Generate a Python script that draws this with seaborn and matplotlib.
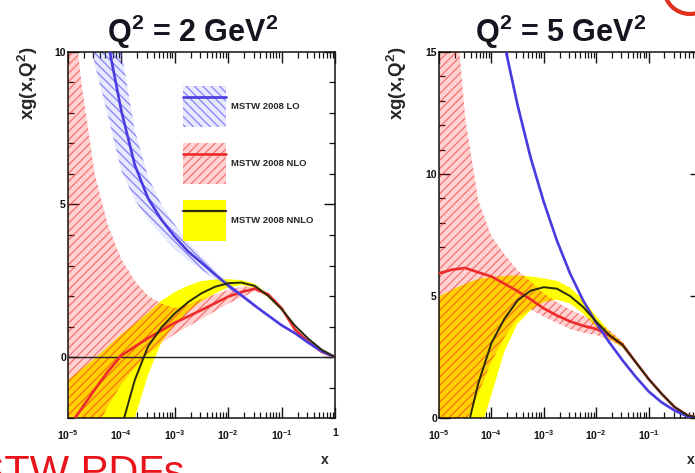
import numpy as np
import pandas as pd
import matplotlib
matplotlib.use("Agg")
import matplotlib.pyplot as plt
import seaborn as sns
from matplotlib.patches import Patch, Circle
from matplotlib.lines import Line2D
from matplotlib.legend_handler import HandlerTuple
from matplotlib.ticker import FixedLocator, FixedFormatter, LogLocator, MultipleLocator, NullFormatter

# ---- x grid (log10 x) ----
log_x = [-5.0, -4.75, -4.5, -4.25, -4.0, -3.75, -3.5, -3.25, -3.0, -2.75, -2.5,
         -2.25, -2.0, -1.75, -1.5, -1.25, -1.0, -0.75, -0.5, -0.25, 0.0]

# ---- Q^2 = 2 GeV^2 ----
lo_q2_c = [18.0, 15.0, 12.5, 10.3, 8.06, 6.3, 5.2, 4.5, 3.94, 3.46, 3.09,
           2.71, 2.35, 2.02, 1.68, 1.36, 1.04, 0.78, 0.47, 0.19, 0.0]
lo_q2_dn = [14.0, 11.5, 9.6, 7.9, 6.1, 5.15, 4.5, 4.0, 3.54, 3.16, 2.86,
            2.55, 2.25, 1.96, 1.63, 1.32, 1.01, 0.75, 0.45, 0.18, 0.0]
lo_q2_up = [22.0, 18.5, 15.4, 12.7, 10.0, 7.45, 5.9, 5.0, 4.34, 3.76, 3.32,
            2.87, 2.45, 2.08, 1.73, 1.40, 1.07, 0.81, 0.49, 0.20, 0.0]

nlo_q2_c = [-2.32, -1.70, -1.07, -0.47, 0.05, 0.34, 0.62, 0.87, 1.12, 1.33, 1.54,
            1.76, 1.98, 2.13, 2.24, 2.05, 1.60, 0.90, 0.50, 0.17, 0.0]
nlo_q2_dn = [-4.0, -3.3, -2.5, -1.6, -0.9, -0.35, 0.1, 0.45, 0.75, 1.0, 1.25,
             1.5, 1.75, 1.95, 2.15, 2.0, 1.56, 0.87, 0.48, 0.16, 0.0]
nlo_q2_up = [13.0, 9.0, 6.0, 4.3, 3.2, 2.5, 2.0, 1.75, 1.6, 1.72, 1.9,
             2.05, 2.2, 2.3, 2.32, 2.1, 1.64, 0.93, 0.52, 0.18, 0.0]

nnlo_q2_c = [-8.0, -6.0, -4.5, -3.2, -2.32, -0.76, 0.35, 0.97, 1.43, 1.80, 2.09,
             2.30, 2.42, 2.44, 2.33, 2.0, 1.57, 1.03, 0.60, 0.24, 0.0]
nnlo_q2_dn = [-10.0, -8.0, -6.0, -4.5, -3.5, -2.0, -0.58, 0.49, 1.06, 1.49, 1.83,
              2.08, 2.28, 2.36, 2.27, 1.95, 1.53, 1.0, 0.58, 0.23, 0.0]
nnlo_q2_up = [-0.75, -0.4, -0.05, 0.35, 0.75, 1.09, 1.45, 1.85, 2.13, 2.34, 2.49,
              2.54, 2.55, 2.52, 2.40, 2.05, 1.61, 1.06, 0.62, 0.25, 0.0]

# ---- Q^2 = 5 GeV^2 ----
lo_q5_c = [30.0, 26.5, 23.5, 20.5, 17.8, 15.3, 12.82, 10.66, 8.85, 7.27, 5.93,
           4.82, 3.90, 3.10, 2.37, 1.70, 1.09, 0.64, 0.30, 0.06, 0.0]
lo_q5_dn = [29.5, 26.05, 23.1, 20.15, 17.5, 15.05, 12.62, 10.48, 8.70, 7.15, 5.83,
            4.74, 3.84, 3.05, 2.33, 1.67, 1.06, 0.62, 0.29, 0.06, 0.0]
lo_q5_up = [30.5, 26.95, 23.9, 20.85, 18.1, 15.55, 13.02, 10.84, 9.00, 7.39, 6.03,
            4.90, 3.96, 3.15, 2.41, 1.73, 1.12, 0.66, 0.31, 0.06, 0.0]

nlo_q5_c = [5.93, 6.08, 6.15, 5.97, 5.80, 5.50, 5.20, 4.86, 4.49, 4.20, 3.96,
            3.78, 3.65, 3.38, 3.01, 2.30, 1.60, 0.99, 0.44, 0.10, 0.0]
nlo_q5_dn = [-1.0, -0.5, -0.2, 1.0, 2.3, 3.3, 4.1, 4.45, 4.15, 3.9, 3.65,
             3.5, 3.4, 3.2, 2.9, 2.22, 1.55, 0.95, 0.42, 0.09, 0.0]
nlo_q5_up = [24.0, 18.5, 12.3, 8.9, 7.45, 6.7, 6.05, 5.6, 5.1, 4.75, 4.45,
             4.2, 3.95, 3.6, 3.15, 2.38, 1.65, 1.03, 0.46, 0.11, 0.0]

nnlo_q5_c = [-3.0, -1.5, -0.8, 1.42, 3.07, 4.07, 4.82, 5.22, 5.36, 5.30, 5.00,
             4.55, 3.95, 3.40, 3.00, 2.30, 1.60, 0.99, 0.44, 0.10, 0.0]
nnlo_q5_dn = [-8.0, -5.0, -2.5, -0.8, 0.95, 2.75, 3.87, 4.42, 4.75, 4.85, 4.70,
              4.28, 3.72, 3.25, 2.90, 2.24, 1.56, 0.96, 0.42, 0.09, 0.0]
nnlo_q5_up = [4.98, 5.26, 5.50, 5.70, 5.78, 5.82, 5.85, 5.80, 5.72, 5.62, 5.35,
              4.85, 4.18, 3.55, 3.10, 2.36, 1.64, 1.02, 0.46, 0.11, 0.0]

panel_titles = ["Q$^2$ = 2 GeV$^2$", "Q$^2$ = 5 GeV$^2$"]
set_names = ["MSTW 2008 LO", "MSTW 2008 NLO", "MSTW 2008 NNLO"]
x_tick_vals = [1e-5, 1e-4, 1e-3, 1e-2, 1e-1, 1.0]
x_tick_text = ["10$^{-5}$", "10$^{-4}$", "10$^{-3}$", "10$^{-2}$", "10$^{-1}$", "1"]

# ---- style ----
sns.set_style("ticks")
plt.rcParams["font.family"] = ["Liberation Sans", "DejaVu Sans"]
plt.rcParams["mathtext.fontset"] = "custom"
plt.rcParams["mathtext.rm"] = "Liberation Sans:bold"
plt.rcParams["mathtext.bf"] = "Liberation Sans:bold"
plt.rcParams["mathtext.default"] = "bf"
plt.rcParams["hatch.linewidth"] = 0.9

C_LO = "#4a3be0"
C_NLO = "#ee2a2a"
C_NNLO = "#2a2a10"
LO_FACE = (0.45, 0.45, 1.0, 0.16)
LO_HATCH = (0.30, 0.30, 0.95, 0.65)
NLO_FACE = (1.0, 0.0, 0.0, 0.18)
NLO_HATCH = (0.92, 0.15, 0.15, 0.55)
NNLO_FACE = "#ffff00"

x = 10 ** np.array(log_x)

fig = plt.figure(figsize=(6.95, 4.73), dpi=100)
ax_l = fig.add_axes([68 / 695, 55 / 473, 267 / 695, 366 / 473])
ax_r = fig.add_axes([439 / 695, 55 / 473, 262 / 695, 366 / 473])

panels = [
    (ax_l, (lo_q2_c, lo_q2_dn, lo_q2_up), (nlo_q2_c, nlo_q2_dn, nlo_q2_up),
     (nnlo_q2_c, nnlo_q2_dn, nnlo_q2_up), (-2, 10), -0.105),
    (ax_r, (lo_q5_c, lo_q5_dn, lo_q5_up), (nlo_q5_c, nlo_q5_dn, nlo_q5_up),
     (nnlo_q5_c, nnlo_q5_dn, nnlo_q5_up), (0, 15), -0.115),
]

for i, (ax, lo, nlo, nnlo, ylim, ylab_x) in enumerate(panels):
    ax.set_xscale("log")
    # uncertainty bands
    ax.fill_between(x, nnlo[1], nnlo[2], facecolor=NNLO_FACE, edgecolor="none",
                    linewidth=0, zorder=1)
    ax.fill_between(x, nlo[1], nlo[2], facecolor=NLO_FACE, edgecolor=NLO_HATCH,
                    hatch="////", linewidth=0, zorder=1.2)
    ax.fill_between(x, lo[1], lo[2], facecolor=LO_FACE, edgecolor=LO_HATCH,
                    hatch="\\\\\\\\", linewidth=0, zorder=1.3)

    # central curves
    n = len(log_x)
    df = pd.DataFrame({
        "x": np.tile(x, 3),
        "xg": list(nlo[0]) + list(lo[0]) + list(nnlo[0]),
        "set": [set_names[1]] * n + [set_names[0]] * n + [set_names[2]] * n,
    })
    sns.lineplot(data=df, x="x", y="xg", hue="set",
                 hue_order=[set_names[1], set_names[0], set_names[2]],
                 palette={set_names[0]: C_LO, set_names[1]: C_NLO, set_names[2]: C_NNLO},
                 estimator=None, sort=False, legend=False, ax=ax, linewidth=1.9)
    for ln in ax.lines:
        ln.set_zorder(3)
        ln.set_solid_joinstyle("round")
    ax.lines[-1].set_linewidth(1.4)
    ax.lines[-1].set_zorder(3.5)

    if ylim[0] < 0:
        ax.axhline(0, color="#222222", lw=1.0, zorder=2.5)

    ax.set_xlim(1e-5, 1.0)
    ax.set_ylim(*ylim)
    ax.xaxis.set_major_locator(FixedLocator(x_tick_vals))
    ax.xaxis.set_major_formatter(FixedFormatter(x_tick_text))
    ax.xaxis.set_minor_locator(LogLocator(base=10, subs=np.arange(2, 10), numticks=20))
    ax.xaxis.set_minor_formatter(NullFormatter())
    ax.yaxis.set_major_locator(MultipleLocator(5))
    ax.yaxis.set_minor_locator(MultipleLocator(1))
    ax.tick_params(which="both", direction="in", top=True, right=True, colors="#111111")
    ax.tick_params(which="major", length=8, width=1.0)
    ax.tick_params(which="minor", length=4, width=0.9)
    ax.tick_params(axis="x", which="major", pad=7, labelsize=7.5)
    ax.tick_params(axis="y", which="major", pad=1.5, labelsize=7.5)
    for lab in ax.get_xticklabels() + ax.get_yticklabels():
        lab.set_fontweight("bold")
    for sp in ax.spines.values():
        sp.set_linewidth(1.1)
        sp.set_color("#111111")
        sp.set_visible(True)

    ax.set_title(panel_titles[i], fontsize=22, fontweight="bold", color="#151520",
                 x=0.465, y=1.027, pad=0)
    ax.set_ylabel("xg(x,Q$^2$)", fontsize=13.5, fontweight="bold", loc="top")
    ax.yaxis.set_label_coords(ylab_x, 1.014)
    ax.set_xlabel("x", fontsize=10, fontweight="bold", loc="right")
    ax.xaxis.set_label_coords(0.975, -0.095)

# legend in the left panel
handles = [
    (Patch(facecolor=LO_FACE, edgecolor=LO_HATCH, hatch="\\\\\\\\", linewidth=0),
     Line2D([], [], color=C_LO, lw=1.9)),
    (Patch(facecolor=NLO_FACE, edgecolor=NLO_HATCH, hatch="////", linewidth=0),
     Line2D([], [], color=C_NLO, lw=1.9)),
    (Patch(facecolor=NNLO_FACE, edgecolor="none", linewidth=0),
     Line2D([], [], color=C_NNLO, lw=1.6)),
]
ax_l.legend(handles, set_names, handler_map={tuple: HandlerTuple(ndivide=1, pad=0)},
            loc="upper left", bbox_to_anchor=(0.43, 0.907), frameon=False,
            prop={"weight": "bold", "size": 6.8}, handlelength=4.6, handleheight=6.3,
            labelspacing=1.7, handletextpad=0.5, borderaxespad=0, borderpad=0)

# slide decorations around the figure
fig.text(185 / 695, -12 / 473, "MSTW PDFs", color="#e8141c", fontsize=30,
         ha="right", va="baseline")
fig.add_artist(Circle((6.90, 4.85), 0.26, transform=fig.dpi_scale_trans,
                      fill=False, edgecolor="#e03020", lw=3))

fig.savefig("out.png", dpi=100)
